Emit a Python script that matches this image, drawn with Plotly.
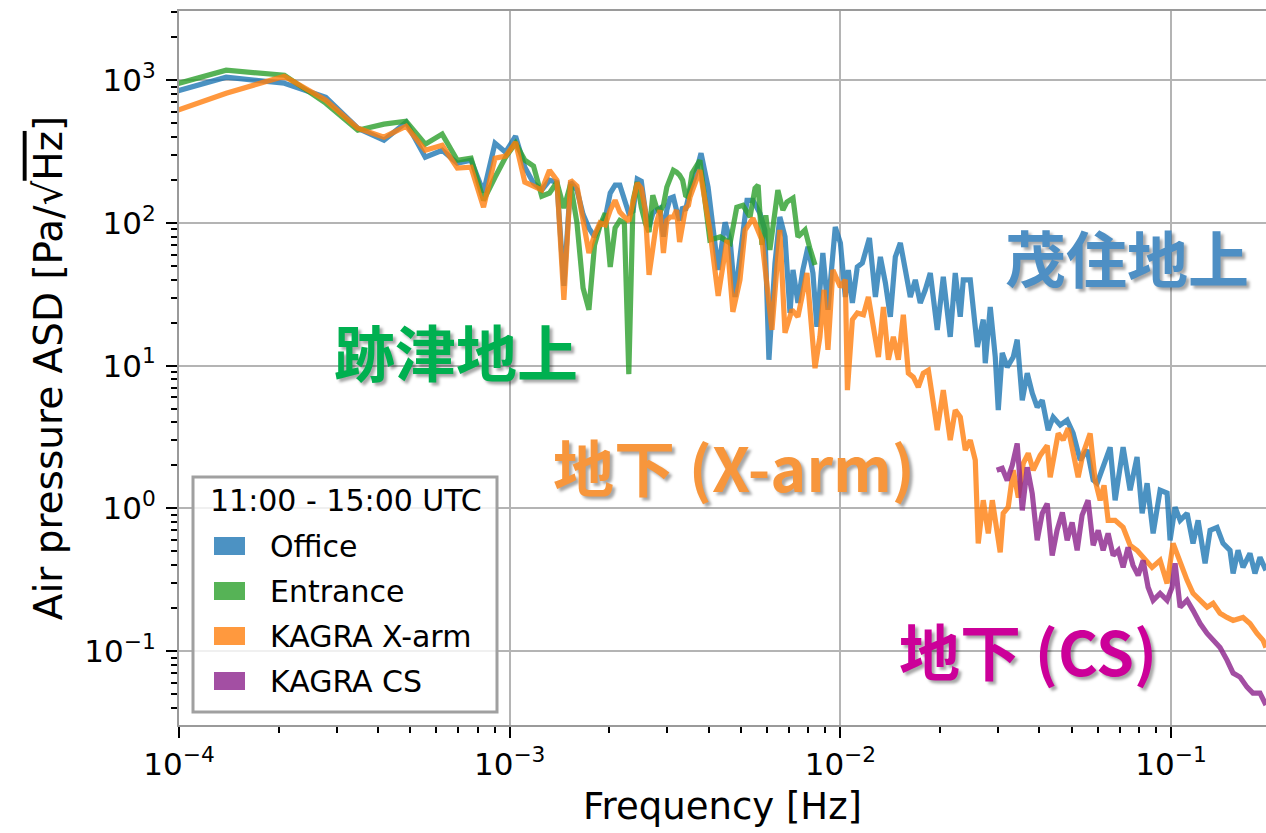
import plotly.graph_objects as go

# ---------------------------------------------------------------------------
# Air-pressure amplitude spectral densities, 11:00 - 15:00 UTC
# ---------------------------------------------------------------------------

# Low-frequency bins shared by the three long records [Hz]
freq_low = [6.944e-5, 1.389e-4, 2.083e-4, 2.778e-4, 3.472e-4, 4.167e-4, 4.861e-4,
            5.556e-4, 6.250e-4, 6.944e-4, 7.639e-4, 8.333e-4, 9.028e-4, 9.722e-4,
            1.0417e-3, 1.1111e-3, 1.1806e-3, 1.2500e-3, 1.3194e-3, 1.3889e-3,
            1.4583e-3, 1.5278e-3, 1.5972e-3, 1.6667e-3, 1.7361e-3, 1.8056e-3,
            1.8750e-3, 1.9444e-3, 2.0139e-3, 2.0833e-3, 2.1528e-3, 2.2222e-3,
            2.2917e-3, 2.3611e-3, 2.4306e-3, 2.5000e-3, 2.5694e-3, 2.6389e-3,
            2.7083e-3, 2.7778e-3, 2.8472e-3, 2.9167e-3, 2.9861e-3, 3.0556e-3,
            3.1250e-3, 3.1944e-3, 3.2639e-3, 3.3333e-3, 3.4028e-3, 3.4722e-3]

# Office (Mozumi, surface) [Pa/sqrt(Hz)]
office_low = [668, 1050, 953, 760, 461, 380, 508, 289, 323, 262, 275, 164, 362, 313,
              405, 246, 190, 170, 199, 193, 36.2, 193, 170, 115, 92, 80, 97, 108,
              162, 184, 184, 149, 117, 121, 203, 196, 123, 94, 117, 123, 127, 80,
              123, 149, 152, 123, 104, 129, 123, 152]
office_freq_high = [3.51e-3, 3.63e-3, 3.79e-3, 3.98e-3, 4.27e-3, 4.48e-3, 4.64e-3, 4.80e-3,
                    4.97e-3, 5.22e-3, 5.44e-3, 5.71e-3, 5.91e-3, 6.08e-3, 6.34e-3, 6.56e-3,
                    6.80e-3, 7.04e-3, 7.19e-3, 7.44e-3, 7.70e-3, 7.98e-3, 8.26e-3, 8.49e-3,
                    8.85e-3, 9.17e-3, 9.65e-3, 1.000e-2, 1.035e-2, 1.057e-2, 1.087e-2,
                    1.125e-2, 1.165e-2, 1.224e-2, 1.276e-2, 1.321e-2, 1.368e-2, 1.416e-2,
                    1.466e-2, 1.518e-2, 1.572e-2, 1.627e-2, 1.685e-2, 1.744e-2, 1.806e-2,
                    1.870e-2, 1.963e-2, 2.047e-2, 2.149e-2, 2.225e-2, 2.304e-2, 2.353e-2,
                    2.470e-2, 2.595e-2, 2.704e-2, 2.742e-2, 2.839e-2, 2.940e-2, 3.002e-2,
                    3.086e-2, 3.195e-2, 3.332e-2, 3.425e-2, 3.548e-2, 3.673e-2, 3.803e-2,
                    3.937e-2, 4.077e-2, 4.249e-2, 4.400e-2, 4.620e-2, 4.850e-2, 5.055e-2,
                    5.310e-2, 5.576e-2, 5.813e-2, 5.977e-2, 6.230e-2, 6.542e-2, 6.773e-2,
                    7.160e-2, 7.518e-2, 7.890e-2, 8.175e-2, 8.462e-2, 8.825e-2, 9.264e-2,
                    9.725e-2, 9.93e-2, 0.1028, 0.1065, 0.1118, 0.1165, 0.1207, 0.1267,
                    0.1312, 0.1377, 0.1436, 0.1507, 0.1540, 0.1594, 0.1650, 0.1732,
                    0.1793, 0.1857, 0.1936]
office_high = [170, 210, 308, 178, 46.8, 101, 76, 30.3, 55, 144,
               144, 117, 89, 11.0, 52, 110, 80, 23.4, 46.8, 27.5,
               46.8, 68, 44.6, 18.7, 61.6, 24.6, 93.7, 72.4, 30.3, 46.8,
               27.5, 49.2, 52.4, 78.5, 30.3, 57.8, 38, 22, 57.8, 72.4,
               46.8, 30.3, 39.9, 27.5, 34, 44.6, 17.8, 41.9, 15.9, 44.6,
               22, 39.9, 39.9, 13.5, 21, 10.4, 25.8, 11.5, 4.88, 12.3,
               9.76, 11.5, 15.2, 5.73, 8.86, 6.42, 5.12, 5.73, 3.53, 4.36,
               3.83, 4.15, 3.37, 2.18, 2.56, 1.58, 1.50, 1.94, 2.68, 1.14,
               2.68, 1.34, 2.29, 0.923, 1.50, 0.668, 1.34, 1.28, 0.597, 1.02,
               0.824, 0.923, 0.568, 0.824, 0.412, 0.701, 0.736, 0.568, 0.508, 0.350,
               0.508, 0.386, 0.484, 0.350, 0.454, 0.368]

# Entrance (Atotsu, surface)
entrance_low = [754, 1175, 1084, 690, 446, 492, 516, 356, 419, 275, 284, 144, 209, 289,
                362, 275, 250, 154, 162, 193, 127, 187, 100, 35.0, 24.6, 70.1, 95.3,
                117, 49.2, 92.3, 104, 100, 8.72, 144, 193, 129, 100, 86.5, 156, 129,
                119, 133, 178, 210, 234, 227, 216, 199, 156, 152]
entrance_freq_high = [3.56e-3, 3.76e-3, 4.03e-3, 4.33e-3, 4.64e-3, 4.86e-3, 5.07e-3,
                      5.33e-3, 5.52e-3, 5.64e-3, 5.79e-3, 5.95e-3, 6.12e-3, 6.47e-3,
                      6.70e-3, 6.89e-3, 7.19e-3, 7.44e-3, 7.82e-3, 8.08e-3, 8.38e-3]
entrance_high = [223, 275, 76.0, 79.8, 72.4, 129, 133, 110, 175, 184, 70.1, 113, 64.6,
                 170, 123, 140, 149, 79.8, 89.3, 66.8, 50.8]

# KAGRA X-arm (underground)
xarm_low = [461, 811, 1067, 724, 461, 399, 476, 323, 350, 242, 246, 129, 284, 294, 368,
            193, 181, 170, 234, 199, 28.9, 199, 181, 104, 61.6, 82.4, 100, 96.8, 123,
            144, 119, 110, 103, 140, 190, 175, 123, 43.2, 70.1, 100, 123, 61.6, 104,
            110, 110, 123, 73.6, 104, 127, 133]
xarm_freq_high = [3.51e-3, 3.76e-3, 4.03e-3, 4.27e-3, 4.54e-3, 4.73e-3, 4.97e-3, 5.15e-3,
                  5.44e-3, 5.79e-3, 6.21e-3, 6.56e-3, 6.80e-3, 7.14e-3, 7.44e-3, 7.92e-3,
                  8.38e-3, 8.67e-3, 8.92e-3, 9.17e-3, 9.49e-3, 1.000e-2, 1.035e-2,
                  1.050e-2, 1.087e-2, 1.125e-2, 1.174e-2, 1.215e-2, 1.258e-2, 1.303e-2,
                  1.349e-2, 1.397e-2, 1.446e-2, 1.497e-2, 1.550e-2, 1.605e-2, 1.662e-2,
                  1.720e-2, 1.781e-2, 1.845e-2, 1.910e-2, 1.963e-2, 2.047e-2, 2.149e-2,
                  2.225e-2, 2.304e-2, 2.386e-2, 2.470e-2, 2.558e-2, 2.611e-2, 2.704e-2,
                  2.800e-2, 2.880e-2, 2.969e-2, 3.043e-2, 3.107e-2, 3.217e-2, 3.332e-2,
                  3.452e-2, 3.573e-2, 3.699e-2, 3.829e-2, 4.020e-2, 4.221e-2, 4.309e-2,
                  4.556e-2, 4.717e-2, 4.884e-2, 5.055e-2, 5.236e-2, 5.420e-2, 5.692e-2,
                  5.893e-2, 6.102e-2, 6.27e-2, 6.45e-2, 6.773e-2, 7.160e-2, 7.518e-2,
                  7.890e-2, 8.23e-2, 8.76e-2, 9.264e-2, 9.725e-2, 0.1014, 0.1065, 0.1118,
                  0.1165, 0.1224, 0.1285, 0.1340, 0.1406, 0.1476, 0.1540, 0.1650, 0.1732,
                  0.1819, 0.1897, 0.1936]
xarm_high = [152, 234, 89.3, 30.8, 76.0, 23.8, 39.9, 89.3, 108, 76.0,
             17.8, 89.3, 17.0, 24.6, 22.0, 44.6, 9.6, 15.9, 34.0, 12.9,
             46.8, 35.6, 39.9, 6.74, 21.0, 23.4, 22.7, 30.3, 17.8, 11.5,
             25.8, 11.0, 15.9, 11.0, 22.7, 8.86, 8.31, 7.07, 8.86, 9.30,
             5.46, 3.53, 6.74, 3.01, 4.88, 4.36, 2.56, 3.01, 2.18, 0.568,
             1.14, 0.668, 1.14, 0.668, 0.492, 0.923, 1.02, 1.85, 1.19, 2.07,
             2.43, 1.85, 2.35, 2.76, 1.65, 3.35, 3.01, 3.64, 2.43, 1.65,
             2.43, 3.35, 1.57, 1.14, 1.45, 0.824, 0.824, 0.736, 0.551, 0.508,
             0.454, 0.386, 0.432, 0.298, 0.568, 0.412, 0.313, 0.254, 0.227, 0.203,
             0.216, 0.184, 0.172, 0.164, 0.172, 0.156, 0.133, 0.119, 0.106]

# KAGRA CS (underground), short record
cs_freq = [2.969e-2, 3.086e-2, 3.195e-2, 3.309e-2, 3.425e-2, 3.548e-2, 3.673e-2,
           3.803e-2, 3.937e-2, 4.077e-2, 4.221e-2, 4.37e-2, 4.52e-2, 4.69e-2, 4.850e-2,
           5.02e-2, 5.20e-2, 5.38e-2, 5.61e-2, 5.813e-2, 6.02e-2, 6.230e-2, 6.45e-2,
           6.68e-2, 6.92e-2, 7.160e-2, 7.41e-2, 7.67e-2, 7.95e-2, 8.23e-2, 8.52e-2,
           8.825e-2, 9.264e-2, 9.725e-2, 0.1007, 0.1028, 0.1065, 0.1118, 0.1165,
           0.1224, 0.1285, 0.1340, 0.1406, 0.1476, 0.1540, 0.1616, 0.1697, 0.1768,
           0.1857, 0.1936]
cs_vals = [1.85, 1.91, 1.57, 2.00, 2.85, 0.968, 1.94, 1.27, 0.597, 0.923,
           1.08, 0.468, 0.701, 0.937, 0.597, 0.798, 0.508, 0.893, 1.14, 0.551,
           0.701, 0.508, 0.668, 0.468, 0.508, 0.386, 0.533, 0.399, 0.339, 0.432,
           0.280, 0.227, 0.254, 0.227, 0.280, 0.412, 0.203, 0.227, 0.193, 0.156,
           0.133, 0.119, 0.106, 0.0865, 0.0701, 0.0657, 0.0559, 0.0508, 0.0508, 0.0419]

series_names = ["Office", "Entrance", "KAGRA X-arm", "KAGRA CS"]
series_colors = ["#1f77b4", "#2ca02c", "#ff7f0e", "rgb(140,35,140)"]

x_tick_vals = [1e-4, 1e-3, 1e-2, 1e-1]
x_tick_text = ["10<sup>\u22124</sup>", "10<sup>\u22123</sup>", "10<sup>\u22122</sup>",
               "10<sup>\u22121</sup>"]
y_tick_vals = [1e-1, 1e0, 1e1, 1e2, 1e3]
y_tick_text = ["10<sup>\u22121</sup>", "10<sup>0</sup>", "10<sup>1</sup>",
               "10<sup>2</sup>", "10<sup>3</sup>"]

legend_title = "11:00 - 15:00 UTC"
site_labels = [("茂住地上", "#4e8fc4"), ("跡津地上", "#00b050"),
               ("地下 (X-arm)", "#f7963c"), ("地下 (CS)", "#cc0099")]

# ---------------------------------------------------------------------------
# Figure geometry (pixels)
W, H = 1266, 833
L, R, T, B = 179, 1266, 11, 725


def px_x(p):
    return (p - L) / (R - L)


def px_y(p):
    return (B - p) / (B - T)


fig = go.Figure()

curves = [
    (freq_low + office_freq_high, office_low + office_high),
    (freq_low + entrance_freq_high, entrance_low + entrance_high),
    (freq_low + xarm_freq_high, xarm_low + xarm_high),
    (cs_freq, cs_vals),
]
for (fx, fy), name, col in zip(curves, series_names, series_colors):
    fig.add_trace(go.Scatter(x=fx, y=fy, mode="lines", name=name,
                             line=dict(color=col, width=5.2), opacity=0.8,
                             showlegend=False))

tick_font = dict(family="DejaVu Sans", size=31, color="black")

minor_x = [m * 10.0 ** e for e in range(-4, 0) for m in range(2, 10)]
minor_y = [m * 10.0 ** e for e in range(-2, 4) for m in range(2, 10)]

common_axis = dict(
    type="log", showgrid=True, gridcolor="#b4b4b4", gridwidth=2,
    showline=True, linecolor="#9a9a9a", linewidth=2,
    ticks="outside", ticklen=11, tickwidth=2, tickcolor="black",
    tickfont=tick_font, zeroline=False, tickmode="array",
)

fig.update_xaxes(
    **common_axis, range=[-4, -0.713], mirror=True,
    tickvals=x_tick_vals, ticktext=x_tick_text,
    minor=dict(tickmode="array", tickvals=minor_x, ticks="outside", ticklen=6,
               tickwidth=1.5, tickcolor="black", showgrid=False),
    title=dict(text="Frequency [Hz]",
               font=dict(family="DejaVu Sans", size=37, color="black"), standoff=12),
)
fig.update_yaxes(
    **common_axis, range=[-1.518, 3.485], mirror=False,
    tickvals=y_tick_vals, ticktext=y_tick_text, ticklabelstandoff=4,
    minor=dict(tickmode="array", tickvals=minor_y, ticks="outside", ticklen=6,
               tickwidth=1.5, tickcolor="black", showgrid=False),
    title=dict(text="Air pressure ASD [Pa/√<span style='text-decoration:overline'>Hz</span>]",
               font=dict(family="DejaVu Sans", size=39, color="black"), standoff=10),
)

shapes = []
annotations = []

# Legend frame, patches and labels
shapes.append(dict(type="rect", xref="paper", yref="paper",
                   x0=px_x(193), x1=px_x(497), y0=px_y(712), y1=px_y(477),
                   fillcolor="rgba(255,255,255,0.8)",
                   line=dict(color="#a0a0a0", width=3), layer="above"))
annotations.append(dict(xref="paper", yref="paper", x=px_x(346), y=px_y(500),
                        text=legend_title, showarrow=False, xanchor="center",
                        yanchor="middle",
                        font=dict(family="DejaVu Sans", size=30, color="black")))
for i, (name, col) in enumerate(zip(series_names, series_colors)):
    yc = 546 + 45 * i
    shapes.append(dict(type="rect", xref="paper", yref="paper",
                       x0=px_x(214), x1=px_x(245), y0=px_y(yc + 9), y1=px_y(yc - 9),
                       fillcolor=col, opacity=0.8, line=dict(width=0), layer="above"))
    annotations.append(dict(xref="paper", yref="paper", x=px_x(268), y=px_y(yc),
                            text=name, showarrow=False, xanchor="left",
                            yanchor="middle",
                            font=dict(family="DejaVu Sans", size=30, color="black")))

# Site labels
label_pos = [(1127, 256), (456, 350), (734, 465), (1028, 649)]
for (txt, col), (cx, cy) in zip(site_labels, label_pos):
    annotations.append(dict(xref="paper", yref="paper", x=px_x(cx), y=px_y(cy),
                            text=txt, showarrow=False, xanchor="center",
                            yanchor="middle",
                            font=dict(family="Noto Sans CJK JP", size=61, color=col,
                                      weight=700,
                                      shadow="3px 3px 3px rgba(0,0,0,0.35)")))

fig.update_layout(
    width=W, height=H,
    margin=dict(l=L, r=W - R, t=T, b=H - B, autoexpand=False),
    paper_bgcolor="white", plot_bgcolor="white",
    showlegend=False, shapes=shapes, annotations=annotations,
)

fig.write_html("out.html")
